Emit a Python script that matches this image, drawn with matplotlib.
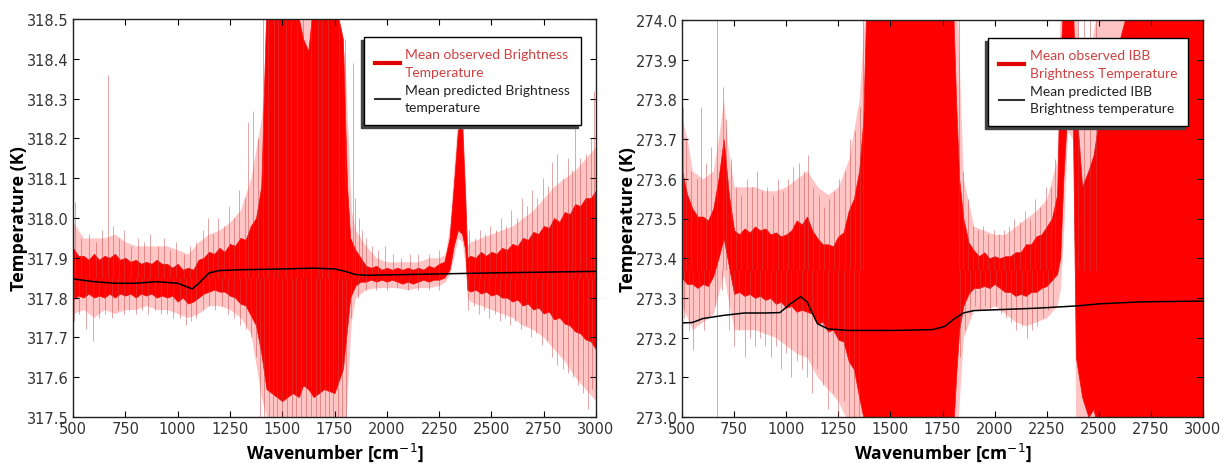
import matplotlib
matplotlib.use('Agg')
import matplotlib.pyplot as plt
from matplotlib.lines import Line2D
from matplotlib.patches import Rectangle

# ================= left panel =================
# dense part of the observed spectrum (solid red band)
wn_left = ([500, 525, 550, 575, 600, 625, 650, 675, 700, 725, 750, 775, 800, 825, 850,
            875, 900, 925, 950, 975, 1000, 1025, 1050, 1075, 1100, 1125, 1150, 1175,
            1200, 1225, 1250, 1275, 1300, 1325, 1350, 1375, 1400]
           + [1425, 1450, 1500, 1550, 1580, 1600, 1625, 1650, 1700, 1750, 1790, 1810]
           + [1825, 1850, 1875, 1900]
           + [1925, 1950, 1975, 2000, 2025, 2050, 2075, 2100, 2125, 2150, 2175, 2200,
              2225, 2250, 2275]
           + [2300, 2320, 2340, 2360, 2375, 2385]
           + [2400, 2425, 2450, 2475, 2500, 2525, 2550, 2575, 2600, 2625, 2650, 2675,
              2700, 2725, 2750, 2775, 2800, 2825, 2850, 2875, 2900, 2925, 2950, 2975,
              3000])
core_lo_left = ([317.795, 317.805, 317.80, 317.81, 317.80, 317.805, 317.80, 317.81, 317.80,
                 317.81, 317.805, 317.81, 317.80, 317.81, 317.805, 317.81, 317.80, 317.805,
                 317.80, 317.805, 317.79, 317.80, 317.785, 317.79, 317.80, 317.81, 317.815,
                 317.82, 317.815, 317.815, 317.805, 317.80, 317.785, 317.78, 317.755,
                 317.73, 317.66]
                + [317.57, 317.56, 317.54, 317.56, 317.55, 317.58, 317.57, 317.55, 317.57,
                   317.56, 317.62, 317.72]
                + [317.80, 317.83, 317.84, 317.84]
                + [317.845, 317.84, 317.845, 317.84, 317.845, 317.84, 317.835, 317.84,
                   317.835, 317.84, 317.845, 317.84, 317.845, 317.845, 317.85]
                + [317.87, 317.93, 317.97, 317.96, 317.92, 317.82]
                + [317.815, 317.82, 317.81, 317.815, 317.805, 317.81, 317.80, 317.80,
                   317.79, 317.795, 317.78, 317.785, 317.77, 317.775, 317.76, 317.765,
                   317.745, 317.75, 317.735, 317.73, 317.715, 317.71, 317.695, 317.69,
                   317.67])
core_hi_left = ([317.925, 317.905, 317.905, 317.895, 317.91, 317.895, 317.905, 317.90,
                 317.91, 317.895, 317.90, 317.89, 317.895, 317.885, 317.89, 317.885,
                 317.895, 317.885, 317.885, 317.875, 317.885, 317.87, 317.875, 317.87,
                 317.895, 317.90, 317.915, 317.91, 317.925, 317.915, 317.935, 317.93,
                 317.95, 317.945, 317.98, 318.00, 318.08]
                + [318.55, 318.55, 318.55, 318.55, 318.50, 318.45, 318.42, 318.55, 318.55,
                   318.55, 318.45, 318.08]
                + [317.95, 317.92, 317.90, 317.88]
                + [317.875, 317.88, 317.87, 317.875, 317.87, 317.875, 317.87, 317.875,
                   317.87, 317.875, 317.87, 317.88, 317.875, 317.885, 317.89]
                + [317.95, 318.08, 318.22, 318.24, 318.05, 317.90]
                + [317.905, 317.90, 317.915, 317.905, 317.915, 317.91, 317.925, 317.92,
                   317.935, 317.93, 317.95, 317.945, 317.965, 317.96, 317.98, 317.975,
                   318.00, 317.99, 318.015, 318.01, 318.035, 318.03, 318.05, 318.05,
                   318.07])
# light outer fuzz of the noise
halo_wn_left = [500, 550, 600, 650, 700, 750, 800, 850, 900, 950, 1000, 1050, 1100, 1150,
                1200, 1250, 1300, 1350, 1400, 1450, 1500, 1550, 1600, 1650, 1700, 1750,
                1800, 1830, 1850, 1900, 1950, 2000, 2050, 2100, 2150, 2200, 2250, 2280,
                2300, 2320, 2340, 2360, 2375, 2385, 2400, 2450, 2500, 2550, 2600, 2650,
                2700, 2750, 2800, 2850, 2900, 2950, 3000]
halo_lo_left = [317.76, 317.77, 317.75, 317.77, 317.76, 317.77, 317.77, 317.78, 317.77,
                317.77, 317.76, 317.75, 317.76, 317.78, 317.78, 317.77, 317.75, 317.71,
                317.55, 317.45, 317.45, 317.45, 317.45, 317.45, 317.45, 317.45, 317.45,
                317.74, 317.80, 317.82, 317.825, 317.825, 317.825, 317.82, 317.825, 317.825,
                317.83, 317.84, 317.86, 317.90, 317.95, 317.94, 317.88, 317.80, 317.79,
                317.78, 317.77, 317.76, 317.75, 317.73, 317.72, 317.70, 317.67, 317.64,
                317.60, 317.57, 317.54]
halo_hi_left = [317.99, 317.95, 317.95, 317.95, 317.96, 317.94, 317.93, 317.93, 317.93,
                317.93, 317.92, 317.91, 317.94, 317.96, 317.97, 317.99, 318.02, 318.10,
                318.25, 318.55, 318.55, 318.55, 318.55, 318.55, 318.55, 318.55, 318.40,
                318.02, 317.97, 317.93, 317.90, 317.89, 317.89, 317.89, 317.89, 317.90,
                317.90, 317.91, 317.98, 318.12, 318.26, 318.28, 318.10, 317.93, 317.94,
                317.95, 317.96, 317.97, 317.98, 318.00, 318.02, 318.05, 318.08, 318.10,
                318.12, 318.15, 318.18]
# single thin lines sticking out of the band (tips only)
up_x_left = [510, 540, 575, 610, 640, 667, 690, 720, 745, 775, 810, 840, 870, 905, 935,
             965, 990, 1030, 1060, 1090, 1120, 1145, 1170, 1195, 1220, 1245, 1270, 1295,
             1320, 1337, 1360, 1385, 1410, 1430, 1460, 1480, 1520, 1540, 1570, 1600,
             1640, 1670, 1690, 1720, 1770, 1800, 1838, 1850, 1865, 1880, 1900, 1930,
             1960, 1990, 2030, 2070, 2110, 2150, 2200, 2250, 2395, 2420, 2445, 2470,
             2495, 2520, 2545, 2570, 2595, 2620, 2645, 2670, 2695, 2720, 2745, 2770,
             2790, 2815, 2840, 2865, 2885, 2900, 2925, 2950, 2975, 2990]
up_t_left = [318.04, 317.95, 317.96, 317.94, 317.97, 318.36, 317.98, 317.95, 317.97,
             317.93, 317.95, 317.94, 317.96, 317.93, 317.95, 317.92, 317.94, 317.91,
             317.93, 317.94, 317.97, 318.00, 317.96, 318.00, 317.98, 318.03, 318.00,
             318.07, 318.05, 318.24, 318.27, 318.20, 318.50, 318.50, 318.50, 318.50,
             318.50, 318.50, 318.50, 318.50, 318.50, 318.50, 318.50, 318.50, 318.50,
             318.45, 318.39, 318.05, 318.00, 317.97, 317.95, 317.93, 317.92, 317.93,
             317.91, 317.90, 317.91, 317.91, 317.91, 317.92, 317.97, 317.95, 317.97,
             317.96, 317.98, 317.97, 318.00, 317.98, 318.02, 318.00, 318.05, 318.03,
             318.07, 318.05, 318.10, 318.08, 318.14, 318.16, 318.10, 318.15, 318.12,
             318.33, 318.15, 318.16, 318.20, 318.32]
down_x_left = [505, 530, 560, 596, 625, 655, 685, 715, 745, 770, 800, 830, 860, 890, 920,
               950, 980, 1010, 1040, 1065, 1090, 1120, 1150, 1180, 1210, 1240, 1270,
               1300, 1325, 1350, 1375, 1395, 1415, 1435, 1455, 1475, 1500, 1525, 1545,
               1565, 1590, 1615, 1640, 1660, 1680, 1705, 1725, 1745, 1765, 1785, 1805,
               1830, 1860, 1900, 1950, 2000, 2050, 2100, 2150, 2200, 2250, 2390, 2415,
               2440, 2465, 2490, 2515, 2540, 2565, 2590, 2615, 2640, 2665, 2690, 2715,
               2740, 2765, 2790, 2815, 2840, 2865, 2890, 2915, 2940, 2960, 2980]
down_t_left = [317.74, 317.76, 317.72, 317.69, 317.75, 317.76, 317.75, 317.77, 317.76,
               317.77, 317.76, 317.77, 317.76, 317.77, 317.76, 317.76, 317.75, 317.75,
               317.73, 317.74, 317.75, 317.77, 317.78, 317.77, 317.78, 317.76, 317.75,
               317.73, 317.72, 317.70, 317.65, 317.50, 317.50, 317.50, 317.50, 317.50,
               317.50, 317.50, 317.50, 317.50, 317.50, 317.50, 317.50, 317.50, 317.50,
               317.50, 317.50, 317.50, 317.50, 317.50, 317.50, 317.75, 317.80, 317.82,
               317.82, 317.82, 317.825, 317.82, 317.82, 317.82, 317.82, 317.77, 317.78,
               317.76, 317.77, 317.75, 317.76, 317.74, 317.75, 317.73, 317.74, 317.72,
               317.73, 317.70, 317.71, 317.68, 317.69, 317.65, 317.63, 317.62, 317.61,
               317.60, 317.58, 317.56, 317.52, 317.57]
# predicted mean (black line)
pred_wn_left = [500, 600, 700, 800, 900, 1000, 1070, 1100, 1150, 1200, 1300, 1500, 1650,
                1750, 1800, 1850, 1900, 2000, 2200, 2500, 3000]
pred_t_left = [317.847, 317.840, 317.836, 317.836, 317.840, 317.836, 317.822, 317.835,
               317.862, 317.868, 317.870, 317.872, 317.874, 317.872, 317.866, 317.858,
               317.856, 317.857, 317.859, 317.862, 317.866]

# ================= right panel (IBB) =================
wn_right = ([500, 525, 550, 575, 600, 625, 650, 675, 700, 725, 750, 775, 800, 825, 850,
             875, 900, 925, 950, 975, 1000, 1025, 1050, 1075, 1100, 1125, 1150, 1175,
             1200, 1225, 1250, 1275, 1300, 1325, 1350, 1370]
            + [1385, 1800, 1815, 1830, 1850]
            + [1875, 1900, 1925, 1950, 1975, 2000, 2025, 2050, 2075, 2100, 2125, 2150,
               2175, 2200, 2225, 2250, 2275]
            + [2300, 2315, 2330, 2350, 2375, 2390, 2420, 2450, 2475, 2500, 2525, 2550,
               2600, 2650, 2700, 3000])
core_lo_right = ([273.35, 273.335, 273.335, 273.325, 273.335, 273.33, 273.355, 273.40,
                  273.45, 273.38, 273.31, 273.315, 273.305, 273.31, 273.30, 273.305,
                  273.295, 273.30, 273.285, 273.29, 273.275, 273.28, 273.265, 273.27,
                  273.265, 273.26, 273.235, 273.24, 273.215, 273.22, 273.195, 273.19,
                  273.14, 273.12, 273.05, 273.00]
                 + [272.95, 272.95, 273.10, 273.22, 273.28]
                 + [273.31, 273.325, 273.325, 273.33, 273.325, 273.335, 273.325, 273.315,
                    273.315, 273.305, 273.31, 273.305, 273.315, 273.315, 273.325, 273.33,
                    273.345]
                 + [273.36, 273.40, 273.60, 273.78, 273.78, 273.15, 273.05, 273.00,
                    273.02, 272.95, 273.00, 273.00, 272.97, 272.98, 272.95, 272.95])
core_hi_right = ([273.62, 273.56, 273.525, 273.505, 273.505, 273.495, 273.525, 273.60,
                  273.70, 273.56, 273.47, 273.46, 273.475, 273.465, 273.48, 273.47,
                  273.475, 273.46, 273.465, 273.455, 273.46, 273.47, 273.495, 273.485,
                  273.505, 273.47, 273.45, 273.435, 273.435, 273.43, 273.455, 273.465,
                  273.52, 273.55, 273.62, 273.75]
                 + [274.05, 274.05, 273.80, 273.60, 273.50]
                 + [273.44, 273.42, 273.405, 273.415, 273.40, 273.405, 273.40, 273.405,
                    273.405, 273.415, 273.415, 273.435, 273.435, 273.455, 273.46, 273.48,
                    273.50]
                 + [273.56, 273.90, 274.05, 274.05, 274.05, 273.80, 273.58, 273.62,
                    273.66, 273.75, 273.82, 273.90, 273.95, 274.05, 274.05, 274.05])
halo_wn_right = [500, 525, 550, 600, 650, 680, 700, 720, 750, 800, 850, 900, 950, 1000,
                 1050, 1100, 1150, 1200, 1250, 1300, 1350, 1380, 1450, 1550, 1650, 1750,
                 1800, 1820, 1850, 1900, 1950, 2000, 2050, 2100, 2150, 2200, 2250, 2300,
                 2315, 2330, 2350, 2375, 2390, 2420, 2450, 2500, 2550, 2650, 2750, 2850,
                 2950, 3000]
halo_lo_right = [273.28, 273.25, 273.22, 273.24, 273.26, 273.32, 273.36, 273.30, 273.22,
                 273.22, 273.22, 273.21, 273.20, 273.18, 273.16, 273.15, 273.10, 273.07,
                 273.04, 272.98, 272.95, 272.95, 272.95, 272.95, 272.95, 272.95, 272.95,
                 272.95, 273.20, 273.27, 273.27, 273.28, 273.26, 273.24, 273.23, 273.24,
                 273.25, 273.28, 273.32, 273.45, 273.72, 273.70, 272.95, 272.95, 272.95,
                 272.95, 272.95, 272.95, 272.95, 272.95, 272.95, 272.95]
halo_hi_right = [273.75, 273.70, 273.62, 273.60, 273.62, 273.72, 273.80, 273.68, 273.58,
                 273.58, 273.58, 273.57, 273.57, 273.58, 273.60, 273.62, 273.58, 273.56,
                 273.58, 273.65, 273.80, 274.05, 274.05, 274.05, 274.05, 274.05, 274.05,
                 274.05, 273.60, 273.48, 273.47, 273.46, 273.46, 273.48, 273.50, 273.52,
                 273.55, 273.65, 274.05, 274.05, 274.05, 274.05, 274.05, 273.80, 273.90,
                 274.05, 274.05, 274.05, 274.05, 274.05, 274.05, 274.05]
up_x_right = [505, 520, 545, 570, 590, 615, 640, 668, 695, 712, 735, 760, 785, 810, 835,
              860, 885, 910, 935, 960, 985, 1010, 1035, 1060, 1085, 1105, 1130, 1155,
              1180, 1205, 1230, 1255, 1280, 1305, 1330, 1355, 1370, 1830, 1850, 1870,
              1895, 1920, 1945, 1970, 1995, 2020, 2045, 2070, 2095, 2120, 2145, 2170,
              2195, 2220, 2245, 2270, 2290, 2400, 2430, 2460, 2485]
up_t_right = [273.78, 273.70, 273.62, 273.60, 273.78, 273.64, 273.68, 274.00, 273.83,
              273.75, 273.65, 273.58, 273.56, 273.60, 273.58, 273.62, 273.57, 273.58,
              273.56, 273.60, 273.57, 273.60, 273.63, 273.64, 273.62, 273.66, 273.58,
              273.56, 273.53, 273.55, 273.57, 273.60, 273.62, 273.70, 273.72, 273.78,
              274.00, 274.00, 273.62, 273.55, 273.48, 273.47, 273.48, 273.46, 273.47,
              273.46, 273.47, 273.48, 273.50, 273.49, 273.52, 273.50, 273.55, 273.53,
              273.58, 273.58, 273.65, 274.00, 274.00, 274.00, 274.00]
down_x_right = [510, 535, 555, 580, 605, 630, 660, 668, 690, 725, 750, 775, 800, 825,
                850, 875, 900, 925, 950, 975, 1000, 1025, 1050, 1075, 1100, 1125, 1150,
                1175, 1200, 1225, 1250, 1275, 1300, 1325, 1350, 1835, 1860, 1880, 1905,
                1930, 1955, 1980, 2005, 2030, 2055, 2080, 2105, 2130, 2155, 2180, 2205,
                2230, 2255, 2280]
down_t_right = [273.25, 273.22, 273.17, 273.24, 273.22, 273.25, 273.28, 273.00, 273.32,
                273.22, 273.18, 273.22, 273.15, 273.20, 273.18, 273.20, 273.18, 273.15,
                273.18, 273.12, 273.16, 273.10, 273.14, 273.12, 273.10, 273.06, 273.12,
                273.08, 273.02, 273.06, 273.00, 273.04, 273.00, 273.00, 273.00, 273.15,
                273.22, 273.26, 273.28, 273.27, 273.28, 273.27, 273.28, 273.26, 273.25,
                273.24, 273.22, 273.23, 273.20, 273.22, 273.23, 273.25, 273.27, 273.28]
pred_wn_right = [500, 550, 600, 700, 800, 900, 970, 1020, 1070, 1100, 1150, 1200, 1300,
                 1500, 1700, 1760, 1800, 1850, 1900, 2000, 2200, 2400, 2500, 2700, 3000]
pred_t_right = [273.237, 273.238, 273.248, 273.256, 273.262, 273.262, 273.263, 273.285,
                273.303, 273.290, 273.235, 273.222, 273.218, 273.218, 273.220, 273.228,
                273.245, 273.262, 273.268, 273.270, 273.274, 273.280, 273.285, 273.290,
                273.292]

label_font = 'Open Sans'
legend_font = 'Lato'

fig = plt.figure(figsize=(12.26, 4.64), dpi=100)
ax1 = fig.add_axes([73/1226, 1-418/464, 523/1226, 398/464])
ax2 = fig.add_axes([682/1226, 1-418/464, 521/1226, 397/464])


def draw_panel(ax, wn, clo, chi, hwn, hlo, hhi, ux, ut, dx, dt, base, pwn, pt,
               ylim, labels):
    ax.fill_between(hwn, hlo, hhi, color='#ff2020', alpha=0.26, lw=0)
    ax.vlines(ux, base, ut, color='#c84848', alpha=0.5, lw=0.7)
    ax.vlines(dx, dt, base, color='#c84848', alpha=0.5, lw=0.7)
    ax.fill_between(wn, clo, chi, color='#ff0000', lw=0.5, edgecolor='#f01010')
    ax.plot(pwn, pt, color='black', lw=1.1)
    ax.set_xlim(500, 3000)
    ax.set_ylim(*ylim)
    ax.set_xticks([500, 750, 1000, 1250, 1500, 1750, 2000, 2250, 2500, 2750, 3000])
    yticks = [ylim[0] + 0.1 * i for i in range(11)]
    ax.set_yticks(yticks)
    ax.set_yticklabels(['%.1f' % v for v in yticks])
    ax.tick_params(direction='in', top=True, right=True, length=4, width=0.8,
                   labelsize=10.5, labelcolor='#333333', pad=3)
    for s in ax.spines.values():
        s.set_linewidth(1.0)
        s.set_color('#222222')
    ax.set_xlabel('Wavenumber [cm$^{-1}$]', fontsize=12.5, fontweight='bold',
                  family=label_font, labelpad=3)
    ax.set_ylabel('Temperature (K)', fontsize=13, fontweight='bold',
                  family=label_font, labelpad=-1)
    handles = [Line2D([], [], color='#e00000', lw=3),
               Line2D([], [], color='#333333', lw=1.5)]
    leg = ax.legend(handles, labels, loc='upper right', bbox_to_anchor=(0.985, 0.972),
                    prop={'family': legend_font, 'size': 10}, framealpha=1,
                    fancybox=False, edgecolor='black',
                    handlelength=1.8, handletextpad=0.4, labelspacing=0.45,
                    borderpad=0.8)
    leg.get_frame().set_linewidth(1.0)
    leg.get_texts()[0].set_color('#d04040')
    leg.get_texts()[1].set_color('#222222')
    for t in leg.get_texts():
        t.set_linespacing(1.55)
    return leg


leg1 = draw_panel(ax1, wn_left, core_lo_left, core_hi_left, halo_wn_left, halo_lo_left,
                  halo_hi_left, up_x_left, up_t_left, down_x_left, down_t_left, 317.85,
                  pred_wn_left, pred_t_left, (317.5, 318.5),
                  ['Mean observed Brightness\nTemperature',
                   'Mean predicted Brightness\ntemperature'])
leg2 = draw_panel(ax2, wn_right, core_lo_right, core_hi_right, halo_wn_right,
                  halo_lo_right, halo_hi_right, up_x_right, up_t_right, down_x_right,
                  down_t_right, 273.37, pred_wn_right, pred_t_right, (273.0, 274.0),
                  ['Mean observed IBB\nBrightness Temperature',
                   'Mean predicted IBB\nBrightness temperature'])

# dark shadow down-left of each legend box, as in the original
fig.canvas.draw()
for ax, leg in [(ax1, leg1), (ax2, leg2)]:
    bb = leg.get_window_extent()
    ax.add_patch(Rectangle((bb.x0 - 3, bb.y0 - 3), bb.width, bb.height, transform=None,
                           color='#444444', zorder=4.9, clip_on=False))

fig.savefig('out.png', dpi=100)
